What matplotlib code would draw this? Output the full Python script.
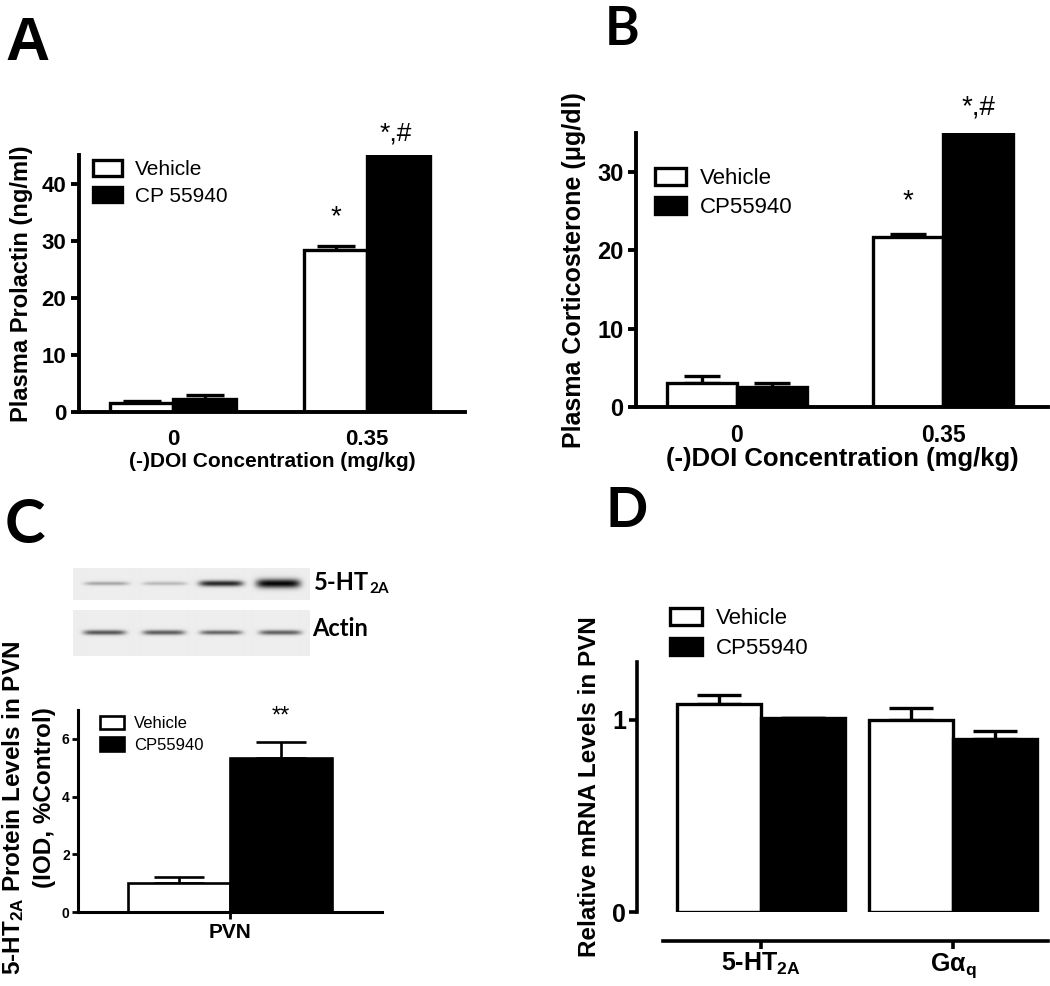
import numpy as np
import matplotlib as mpl
import matplotlib.pyplot as plt

# ---- data ----
groups_ab = ['0', '0.35']
prolactin_vehicle = [1.6, 28.3]
prolactin_vehicle_err = [0.4, 0.8]
prolactin_cp = [2.2, 45.0]
prolactin_cp_err = [0.8, 0.0]

cort_vehicle = [3.1, 21.7]
cort_vehicle_err = [0.9, 0.4]
cort_cp = [2.6, 35.0]
cort_cp_err = [0.5, 0.0]

protein_groups = ['PVN']
protein_vehicle = [1.0]
protein_vehicle_err = [0.22]
protein_cp = [5.35]
protein_cp_err = [0.55]

mrna_groups = ['5-HT$_{\\mathbf{2A}}$', 'G\u03b1$_{\\mathbf{q}}$']
mrna_vehicle = [1.08, 1.0]
mrna_vehicle_err = [0.05, 0.06]
mrna_cp = [1.01, 0.90]
mrna_cp_err = [0.0, 0.04]

# western blot band intensities (4 lanes) and lane centres (px)
blot_lanes_upper = [106, 164, 220, 277]
blot_lanes_lower = [104, 163, 220, 279]
ht2a_band = [0.30, 0.22, 0.85, 1.0]
ht2a_band_thick = [2.0, 2.0, 3.0, 4.5]
actin_band = [0.65, 0.62, 0.58, 0.6]
actin_band_thick = [2.5, 2.5, 2.3, 2.5]

W, H = 1050, 986

mpl.rcParams['font.family'] = ['Liberation Sans', 'DejaVu Sans']
mpl.rcParams['font.weight'] = 'bold'
mpl.rcParams['axes.labelweight'] = 'bold'
mpl.rcParams['mathtext.fontset'] = 'custom'
mpl.rcParams['mathtext.rm'] = 'Liberation Sans'
mpl.rcParams['mathtext.bf'] = 'Liberation Sans:bold'
mpl.rcParams['mathtext.it'] = 'Liberation Sans:italic'

fig = plt.figure(figsize=(W / 100, H / 100), dpi=100)


def px_axes(x0, y0, x1, y1):
    return fig.add_axes([x0 / W, 1 - y1 / H, (x1 - x0) / W, (y1 - y0) / H])


def style_axes(ax, lw):
    for s in ['top', 'right']:
        ax.spines[s].set_visible(False)
    for s in ['left', 'bottom']:
        ax.spines[s].set_linewidth(lw)
        ax.spines[s].set_capstyle('projecting')


def grouped_bars(ax, x, veh, veh_err, cp, cp_err, width, lw, capsize):
    x = np.asarray(x, dtype=float)
    b1 = ax.bar(x - width / 2, veh, width, facecolor='white',
                edgecolor='black', linewidth=lw, label='Vehicle', zorder=2)
    b2 = ax.bar(x + width / 2, cp, width, facecolor='black',
                edgecolor='black', linewidth=lw, label='CP55940', zorder=2)
    ax.errorbar(x - width / 2, veh, yerr=[np.zeros(len(veh)), veh_err],
                fmt='none', ecolor='black', elinewidth=lw, capsize=capsize,
                capthick=lw, zorder=1)
    ax.errorbar(x + width / 2, cp, yerr=[np.zeros(len(cp)), cp_err],
                fmt='none', ecolor='black', elinewidth=lw, capsize=capsize,
                capthick=lw, zorder=1)
    return b1, b2


def make_legend(ax, handles, labels, x_px, y_px, size, hl, hh, spacing):
    ax.legend(handles, labels, loc='upper left',
              bbox_to_anchor=(x_px / W, 1 - y_px / H),
              bbox_transform=fig.transFigure, frameon=False,
              borderaxespad=0, borderpad=0, handlelength=hl,
              handleheight=hh, handletextpad=0.6, labelspacing=spacing,
              prop={'size': size, 'weight': 'normal'})


# ---------------- Panel A ----------------
axA = px_axes(79, 155, 465, 412)
lw = 2.4
xa = np.arange(len(groups_ab))
bA = grouped_bars(axA, xa, prolactin_vehicle, prolactin_vehicle_err,
                  prolactin_cp, prolactin_cp_err, 0.325, lw, 14)
axA.set_xlim(-0.485, 1.505)
axA.set_ylim(0, 45)
style_axes(axA, 2.8)
axA.set_yticks([0, 10, 20, 30, 40])
axA.tick_params(axis='y', length=6, width=2.8, labelsize=16, pad=3)
axA.tick_params(axis='x', length=0, labelsize=16, pad=12)
axA.set_xticks(xa)
axA.set_xticklabels(groups_ab)
axA.set_xlabel('(-)DOI Concentration (mg/kg)', fontsize=15, labelpad=2)
axA.set_ylabel('Plasma Prolactin (ng/ml)', fontsize=17, labelpad=6)
axA.annotate('*', xy=(xa[1] - 0.1625, prolactin_vehicle[1] + prolactin_vehicle_err[1]),
             xytext=(0, 11), textcoords='offset points', ha='center',
             va='bottom', fontsize=20, fontweight='normal')
axA.annotate('*,#', xy=(xa[1] + 0.1625, prolactin_cp[1]),
             xytext=(-2, 7), textcoords='offset points', ha='center',
             va='bottom', fontsize=19, fontweight='normal', annotation_clip=False)
make_legend(axA, bA, ['Vehicle', 'CP 55940'], 93, 160, 15, 1.4, 0.8, 0.35)
fig.text(5 / W, 1 - 60 / H, 'A', fontsize=44, fontweight='bold')

# ---------------- Panel B ----------------
axB = px_axes(636, 133, 1048, 407)
xb = np.arange(len(groups_ab))
bB = grouped_bars(axB, xb, cort_vehicle, cort_vehicle_err,
                  cort_cp, cort_cp_err, 0.34, lw, 13)
axB.set_xlim(-0.49, 1.51)
axB.set_ylim(0, 35)
style_axes(axB, 2.8)
axB.set_yticks([0, 10, 20, 30])
axB.tick_params(axis='y', length=6, width=2.8, labelsize=17, pad=3)
axB.tick_params(axis='x', length=0, labelsize=16.5, pad=12)
axB.set_xticks(xb)
axB.set_xticklabels(groups_ab)
axB.set_xlabel('(-)DOI Concentration (mg/kg)', fontsize=18.5, labelpad=0)
axB.set_ylabel('Plasma Corticosterone (\u03bcg/dl)', fontsize=18, labelpad=8)
axB.annotate('*', xy=(xb[1] - 0.17, cort_vehicle[1] + cort_vehicle_err[1]),
             xytext=(0, 14), textcoords='offset points', ha='center',
             va='bottom', fontsize=20, fontweight='normal')
axB.annotate('*,#', xy=(xb[1] + 0.17, cort_cp[1]),
             xytext=(0, 9), textcoords='offset points', ha='center',
             va='bottom', fontsize=20, fontweight='normal', annotation_clip=False)
make_legend(axB, bB, ['Vehicle', 'CP55940'], 655, 168, 16, 1.4, 0.8, 0.35)
fig.text(605 / W, 1 - 45 / H, 'B', fontsize=38, fontweight='bold',
         family='Lato')

# ---------------- Panel C ----------------
fig.text(5 / W, 1 - 543 / H, 'C', fontsize=44, fontweight='bold',
         family='Lato')


def blot_strip(x0, y0, x1, y1, lanes, band, thick, band_y, band_w):
    ax = px_axes(x0, y0, x1, y1)
    yy, xx = np.mgrid[y0:y1, x0:x1]
    img = np.full(xx.shape, 0.93)
    for cx, inten, th in zip(lanes, band, thick):
        prof_x = np.exp(-((xx - cx) / (band_w / 2.0)) ** 6)
        prof_y = np.exp(-((yy - band_y) / th) ** 2)
        img = img - 0.9 * inten * prof_x * prof_y
    ax.imshow(np.clip(img, 0, 1), cmap='gray', vmin=0, vmax=1,
              extent=(x0, x1, y1, y0), aspect='auto', interpolation='bilinear')
    ax.set_axis_off()
    return ax


blot_strip(73, 568, 309, 600, blot_lanes_upper, ht2a_band,
           ht2a_band_thick, 583, 44)
blot_strip(73, 610, 309, 656, blot_lanes_lower, actin_band,
           actin_band_thick, 632, 42)
fig.text(314 / W, 1 - 583 / H, '5-HT', fontsize=17, fontweight='bold',
         family='Lato', va='center')
fig.text(369 / W, 1 - 589 / H, '2A', fontsize=11, fontweight='bold',
         family='Lato', va='center')
fig.text(312 / W, 1 - 628 / H, 'Actin', fontsize=17, fontweight='bold',
         family='Lato', va='center')

axC = px_axes(78, 710, 382, 912)
lwc = 1.9
bC1 = axC.bar([-0.5], protein_vehicle, 1.0, facecolor='white',
              edgecolor='black', linewidth=lwc, zorder=2)
bC2 = axC.bar([0.5], protein_cp, 1.0, facecolor='black',
              edgecolor='black', linewidth=lwc, zorder=2)
axC.errorbar([-0.5], protein_vehicle, yerr=[[0], protein_vehicle_err],
             fmt='none', ecolor='black', elinewidth=lwc, capsize=18,
             capthick=lwc, zorder=1)
axC.errorbar([0.5], protein_cp, yerr=[[0], protein_cp_err],
             fmt='none', ecolor='black', elinewidth=lwc, capsize=18,
             capthick=lwc, zorder=1)
axC.set_xlim(-1.49, 1.49)
axC.set_ylim(0, 7)
style_axes(axC, 2.2)
axC.set_yticks([0, 2, 4, 6])
axC.set_xticks([0])
axC.set_xticklabels(protein_groups)
axC.tick_params(axis='y', length=4, width=2.0, labelsize=10, pad=2)
axC.tick_params(axis='x', length=5, width=2.0, labelsize=15, pad=3)
axC.annotate('**', xy=(0.5, protein_cp[0] + protein_cp_err[0]),
             xytext=(0, 10), textcoords='offset points', ha='center',
             va='bottom', fontsize=17, fontweight='normal')
make_legend(axC, [bC1, bC2], ['Vehicle', 'CP55940'], 100, 716, 12,
            1.45, 0.85, 0.35)
fig.text(13 / W, 1 - 808 / H, '5-HT$_{\\mathbf{2A}}$ Protein Levels in PVN',
         rotation=90, fontsize=17.5, fontweight='bold', ha='center', va='center')
fig.text(45 / W, 1 - 798 / H, '(IOD, %Control)', rotation=90, fontsize=17.5,
         fontweight='bold', ha='center', va='center')

# ---------------- Panel D ----------------
axD = px_axes(637, 662, 1048, 912)
xd = np.arange(len(mrna_groups))
bD = grouped_bars(axD, xd, mrna_vehicle, mrna_vehicle_err,
                  mrna_cp, mrna_cp_err, 0.4375, 2.4, 16)
axD.set_xlim(-0.646, 1.495)
axD.set_ylim(0, 1.3)
style_axes(axD, 2.6)
axD.spines['bottom'].set_position(('outward', 21))
axD.spines['bottom'].set_bounds(-0.51, 1.495)
axD.spines['left'].set_bounds(0, 1.3)
axD.set_yticks([0, 1])
axD.set_xticks(xd)
axD.set_xticklabels(mrna_groups)
axD.tick_params(axis='y', length=6, width=2.6, labelsize=18, pad=2)
axD.tick_params(axis='x', length=6, width=2.6, labelsize=18, pad=1)
axD.set_ylabel('Relative mRNA Levels in PVN', fontsize=17.5, labelpad=8)
make_legend(axD, bD, ['Vehicle', 'CP55940'], 670, 608, 16, 1.45, 0.8, 0.4)
fig.text(605 / W, 1 - 527 / H, 'D', fontsize=40, fontweight='bold',
         family='Lato')

fig.savefig('out.png', dpi=100)
plt.close(fig)
